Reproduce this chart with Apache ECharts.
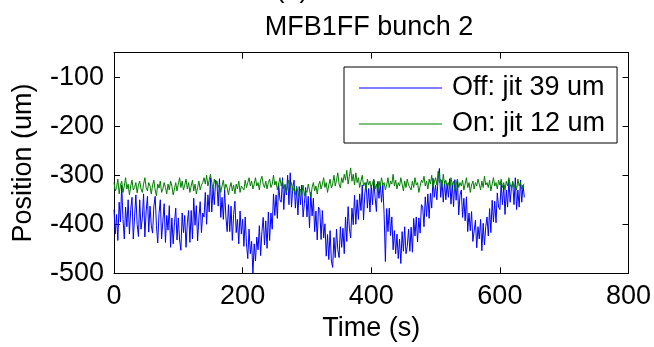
<!DOCTYPE html>
<html>
<head>
<meta charset="utf-8">
<script src="https://cdn.jsdelivr.net/npm/echarts@6/dist/echarts.min.js"></script>
<style>
  html, body { margin: 0; padding: 0; background: #fff; }
  #chart { width: 654px; height: 347px; }
</style>
</head>
<body>
<div id="chart"></div>
<script>
// Beam position of bunch 2 recorded by MFB1FF, feedback off vs on.
const TITLE = 'MFB1FF bunch 2';
const PANEL_TAG = '(b)';
const SERIES_NAMES = ['Off: jit 39 um', 'On: jit 12 um'];
const X_TICKS = [0, 200, 400, 600, 800];
const Y_TICKS = [-500, -400, -300, -200, -100];
const SAMPLE_STEP = 2; // seconds between samples

// Feedback off (um), one row per 20 s
const positionOff = [
  -370, -420, -380, -433, -355, -395, -320, -390, -430, -365,
  -405, -350, -420, -370, -345, -430, -385, -340, -400, -425,
  -350, -410, -388, -338, -426, -373, -343, -416, -363, -403,
  -418, -363, -343, -403, -438, -378, -350, -430, -393, -358,
  -437, -382, -412, -362, -447, -387, -440, -397, -367, -432,
  -387, -432, -453, -377, -417, -382, -447, -397, -372, -437,
  -372, -430, -347, -402, -362, -434, -387, -354, -417, -377,
  -385, -335, -400, -340, -375, -305, -375, -325, -360, -310,
  -315, -363, -307, -386, -345, -390, -330, -385, -415, -360,
  -415, -363, -433, -380, -353, -417, -390, -440, -373, -420,
  -390, -445, -385, -440, -470, -410, -460, -435, -500, -440,
  -475, -426, -452, -403, -464, -415, -386, -442, -393, -449,
  -375, -433, -377, -410, -338, -382, -340, -388, -317, -350,
  -355, -305, -370, -320, -340, -300, -360, -295, -365, -325,
  -310, -367, -327, -381, -323, -360, -320, -385, -358, -325,
  -385, -343, -407, -335, -383, -347, -415, -373, -432, -365,
  -370, -431, -372, -428, -399, -465, -421, -472, -413, -475,
  -488, -427, -468, -410, -452, -468, -405, -447, -408, -460,
  -385, -435, -364, -408, -428, -367, -401, -341, -400, -350,
  -390, -338, -372, -320, -391, -338, -315, -367, -327, -375,
  -320, -360, -310, -345, -374, -313, -347, -317, -355, -320,
  -380, -476, -368, -415, -367, -423, -385, -452, -413, -460,
  -420, -470, -430, -480, -415, -455, -405, -460, -445, -410,
  -455, -406, -457, -388, -424, -385, -436, -387, -418, -360,
  -365, -405, -344, -384, -338, -388, -337, -367, -306, -345,
  -320, -350, -305, -286, -345, -310, -355, -312, -350, -317,
  -345, -307, -359, -317, -364, -309, -351, -308, -381, -340,
  -330, -386, -347, -393, -344, -415, -377, -413, -374, -435,
  -435, -392, -448, -405, -430, -390, -454, -398, -442, -405,
  -385, -424, -368, -417, -351, -395, -353, -397, -336, -365,
  -370, -315, -360, -320, -380, -330, -365, -310, -355, -325,
  -315, -360, -305, -370, -330, -365, -310, -355, -320, -345
];

// Feedback on (um), one row per 20 s
const positionOn = [
  -315, -332, -325, -308, -338, -320, -312, -335, -322, -305,
  -328, -318, -340, -322, -310, -330, -325, -315, -336, -320,
  -312, -328, -335, -318, -305, -325, -332, -315, -322, -338,
  -320, -310, -330, -342, -318, -326, -312, -335, -328, -315,
  -325, -338, -318, -330, -312, -322, -340, -328, -315, -332,
  -318, -305, -325, -312, -330, -320, -308, -328, -315, -335,
  -322, -310, -332, -318, -338, -325, -312, -330, -320, -315,
  -305, -318, -300, -322, -310, -298, -315, -328, -308, -320,
  -312, -325, -318, -335, -322, -310, -330, -318, -326, -340,
  -325, -315, -332, -320, -338, -318, -328, -312, -335, -322,
  -318, -330, -310, -325, -315, -305, -322, -312, -328, -318,
  -305, -322, -315, -330, -310, -302, -318, -325, -312, -328,
  -315, -308, -325, -318, -300, -320, -312, -330, -318, -305,
  -322, -312, -328, -318, -335, -320, -310, -326, -315, -332,
  -325, -340, -322, -335, -345, -328, -338, -320, -342, -330,
  -335, -318, -330, -345, -325, -315, -332, -322, -338, -320,
  -312, -328, -318, -305, -325, -315, -335, -320, -308, -326,
  -318, -300, -322, -310, -295, -318, -326, -305, -315, -298,
  -310, -290, -318, -302, -285, -312, -298, -320, -295, -315,
  -305, -325, -312, -300, -322, -315, -330, -308, -320, -312,
  -325, -315, -308, -328, -318, -335, -312, -322, -305, -320,
  -315, -330, -320, -305, -325, -312, -318, -298, -322, -310,
  -328, -315, -322, -305, -318, -332, -312, -325, -308, -320,
  -318, -330, -312, -325, -305, -320, -315, -335, -322, -310,
  -315, -302, -322, -312, -328, -308, -318, -300, -325, -315,
  -305, -320, -292, -315, -308, -325, -298, -318, -310, -322,
  -315, -328, -305, -320, -312, -332, -318, -308, -325, -315,
  -322, -310, -330, -318, -305, -325, -315, -335, -320, -312,
  -328, -315, -322, -308, -318, -330, -312, -325, -302, -320,
  -315, -325, -310, -332, -318, -305, -322, -315, -328, -310,
  -320, -308, -325, -315, -330, -312, -322, -305, -318, -328,
  -312, -325, -318, -330, -308, -322, -315, -328, -320, -318
];

const FONT = '"Liberation Sans", Arial, Helvetica, sans-serif';
const toPairs = vals => vals.map((v, i) => [i * SAMPLE_STEP, v]);

const xMin = X_TICKS[0], xMax = X_TICKS[X_TICKS.length - 1];
const xStep = X_TICKS[1] - X_TICKS[0];
const yMin = Y_TICKS[0], yStep = Y_TICKS[1] - Y_TICKS[0];
const yMax = -50;

const frameLine = { show: true, onZero: false, lineStyle: { color: '#000', width: 1 } };
const innerTick = { show: true, inside: true, length: 6, lineStyle: { color: '#000', width: 1 } };
const labelStyle = { color: '#000', fontSize: 27, fontFamily: FONT };

const chart = echarts.init(document.getElementById('chart'), null, { renderer: 'canvas' });
chart.setOption({
  animation: false,
  backgroundColor: '#fff',
  title: [
    {
      text: TITLE, left: 369, top: 14, padding: 0, textAlign: 'center',
      textStyle: { fontSize: 27, fontWeight: 'normal', color: '#000', fontFamily: FONT }
    },
    {
      text: PANEL_TAG, left: 292, top: -24, padding: 0, textAlign: 'center',
      textStyle: { fontSize: 27, fontWeight: 'normal', color: '#000', fontFamily: FONT }
    }
  ],
  grid: { left: 114, right: 25.5, top: 52.7, bottom: 73.7, outerBoundsMode: 'none', containLabel: false },
  legend: {
    orient: 'vertical', left: 344, top: 67,
    padding: [6, 12, 4, 15],
    backgroundColor: '#fff', borderColor: '#000', borderWidth: 1, borderRadius: 0,
    icon: 'rect', itemWidth: 83, itemHeight: 1, itemGap: 6,
    textStyle: { fontSize: 27, color: '#000', fontFamily: FONT, lineHeight: 30, padding: [0, 0, 0, 5] },
    data: SERIES_NAMES
  },
  xAxis: [
    {
      type: 'value', position: 'bottom', min: xMin, max: xMax, interval: xStep,
      axisLine: frameLine, axisTick: innerTick, splitLine: { show: false },
      axisLabel: Object.assign({ margin: 10 }, labelStyle),
      name: 'Time (s)', nameLocation: 'middle', nameGap: 38,
      nameTextStyle: labelStyle
    },
    {
      type: 'value', position: 'top', min: xMin, max: xMax, interval: xStep,
      axisLine: frameLine, axisTick: innerTick, splitLine: { show: false },
      axisLabel: { show: false }
    }
  ],
  yAxis: [
    {
      type: 'value', position: 'left', min: yMin, max: yMax, interval: yStep,
      axisLine: frameLine, axisTick: innerTick, splitLine: { show: false },
      axisLabel: Object.assign({ margin: 10, showMaxLabel: false }, labelStyle),
      name: 'Position (um)', nameLocation: 'middle', nameGap: 77,
      nameTextStyle: labelStyle
    },
    {
      type: 'value', position: 'right', min: yMin, max: yMax, interval: yStep,
      axisLine: frameLine, axisTick: innerTick, splitLine: { show: false },
      axisLabel: { show: false }
    }
  ],
  series: [
    {
      name: SERIES_NAMES[0], type: 'line', xAxisIndex: 0, yAxisIndex: 0,
      data: toPairs(positionOff), symbol: 'none',
      lineStyle: { color: '#0000ff', width: 1 }, itemStyle: { color: '#0000ff' }, z: 2
    },
    {
      name: SERIES_NAMES[1], type: 'line', xAxisIndex: 0, yAxisIndex: 0,
      data: toPairs(positionOn), symbol: 'none',
      lineStyle: { color: '#008000', width: 1 }, itemStyle: { color: '#008000' }, z: 3
    }
  ]
});
</script>
</body>
</html>
